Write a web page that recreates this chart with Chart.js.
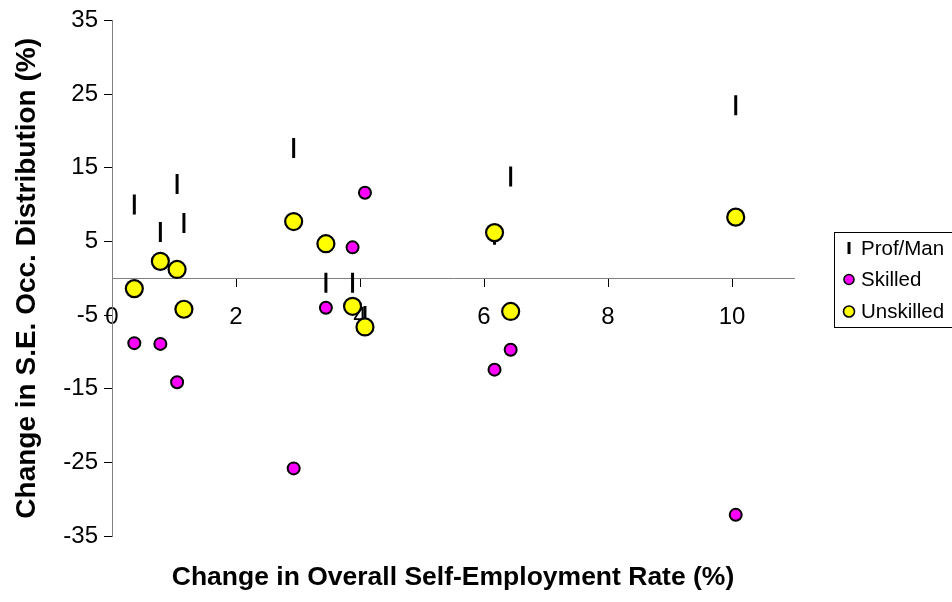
<!DOCTYPE html>
<html lang="en">
<head>
<meta charset="UTF-8">
<title>Self-employment change by occupation</title>
<script src="https://cdn.jsdelivr.net/npm/chart.js"></script>
<style>
  body { margin: 0; background: #fff; }
  canvas { display: block; }
</style>
</head>
<body>
<canvas id="seChart" width="952" height="602"></canvas>
<script>
// change in overall self-employment rate (%), one value per country
const overallChange = [0.36, 0.78, 1.05, 1.16, 2.93, 3.45, 3.88, 4.08, 6.17, 6.43, 10.06];
// change in share of self-employed by occupation group (%)
const profMan   = [10.0, 6.3, 12.8, 7.5, 17.7, -0.6, -0.6, -5.1, 5.9, 13.8, 23.5];
const skilled   = [-8.8, -8.9, -14.1, null, -25.8, -4.0, 4.2, 11.6, -12.4, -9.7, -32.1];
const unskilled = [-1.4, 2.3, 1.2, -4.2, 7.7, 4.7, -3.8, -6.6, 6.2, -4.5, 8.3];

const seriesNames = ['Prof/Man', 'Skilled', 'Unskilled'];
const yTicks = [-35, 35, 10];   // min, max, step
const xTicks = [0, 11, 2];

const FONT = "'Liberation Sans', Arial, sans-serif";

function toPoints(ys) {
    return overallChange.map((x, i) => ({ x: x, y: ys[i] }));
}

// legend in a box on the right, like the original
const legendBox = {
    id: 'legendBox',
    afterDraw(chart) {
        const ctx = chart.ctx;
        const rows = [248, 279.5, 311.5];
        ctx.save();
        ctx.strokeStyle = '#000';
        ctx.lineWidth = 1;
        ctx.strokeRect(834.5, 232.5, 140, 95);
        ctx.font = '20.5px ' + FONT;
        ctx.textBaseline = 'middle';
        ctx.fillStyle = '#000';
        seriesNames.forEach((name, i) => {
            const ds = chart.data.datasets[i];
            const y = rows[i];
            if (i === 0) {
                ctx.lineWidth = 3;
                ctx.beginPath();
                ctx.moveTo(849, y - 6);
                ctx.lineTo(849, y + 6);
                ctx.stroke();
            } else {
                ctx.lineWidth = 1.6;
                ctx.beginPath();
                ctx.arc(849, y, i === 1 ? 5 : 5.5, 0, Math.PI * 2);
                ctx.fillStyle = ds.backgroundColor;
                ctx.fill();
                ctx.stroke();
            }
            ctx.fillStyle = '#000';
            ctx.fillText(name, 861, y + 1);
        });
        ctx.restore();
    }
};

new Chart(document.getElementById('seChart'), {
    type: 'scatter',
    data: {
        datasets: [
            {
                label: seriesNames[0],
                data: toPoints(profMan),
                pointStyle: 'line',
                rotation: 90,
                pointRadius: 10,
                borderWidth: 3,
                borderColor: '#000',
                backgroundColor: '#000',
                order: 3
            },
            {
                label: seriesNames[1],
                data: toPoints(skilled),
                pointRadius: 6,
                borderWidth: 2,
                borderColor: '#000',
                backgroundColor: '#FF00FF',
                order: 2
            },
            {
                label: seriesNames[2],
                data: toPoints(unskilled),
                pointRadius: 8.5,
                borderWidth: 2.2,
                borderColor: '#000',
                backgroundColor: '#FFFF00',
                order: 1
            }
        ]
    },
    options: {
        responsive: false,
        animation: false,
        events: [],
        layout: { padding: { top: 17, right: 158, bottom: 0, left: 0 } },
        scales: {
            x: {
                type: 'linear',
                position: { y: 0 },
                min: xTicks[0],
                max: xTicks[1],
                ticks: {
                    stepSize: xTicks[2],
                    includeBounds: false,
                    color: '#000',
                    font: { family: FONT, size: 24 },
                    padding: 17
                },
                grid: { drawOnChartArea: false, tickLength: 8, tickColor: '#000' },
                border: { color: '#808080' }
            },
            y: {
                min: yTicks[0],
                max: yTicks[1],
                ticks: {
                    stepSize: yTicks[2],
                    color: '#000',
                    font: { family: FONT, size: 24 },
                    padding: 6
                },
                grid: { drawOnChartArea: false, tickLength: 8, tickColor: '#000' },
                border: { color: '#808080' },
                title: {
                    display: true,
                    text: 'Change in S.E. Occ. Distribution (%)',
                    color: '#000',
                    font: { family: FONT, size: 28, weight: 'bold' },
                    padding: { top: 10, bottom: 0 }
                },
                afterFit: (scale) => { scale.width = 112; }
            }
        },
        plugins: {
            legend: { display: false },
            tooltip: { enabled: false },
            title: {
                display: true,
                position: 'bottom',
                fullSize: false,
                text: 'Change in Overall Self-Employment Rate (%)',
                color: '#000',
                font: { family: FONT, size: 26.5, weight: 'bold' },
                padding: { top: 26, bottom: 8 }
            }
        }
    },
    plugins: [legendBox]
});
</script>
</body>
</html>
